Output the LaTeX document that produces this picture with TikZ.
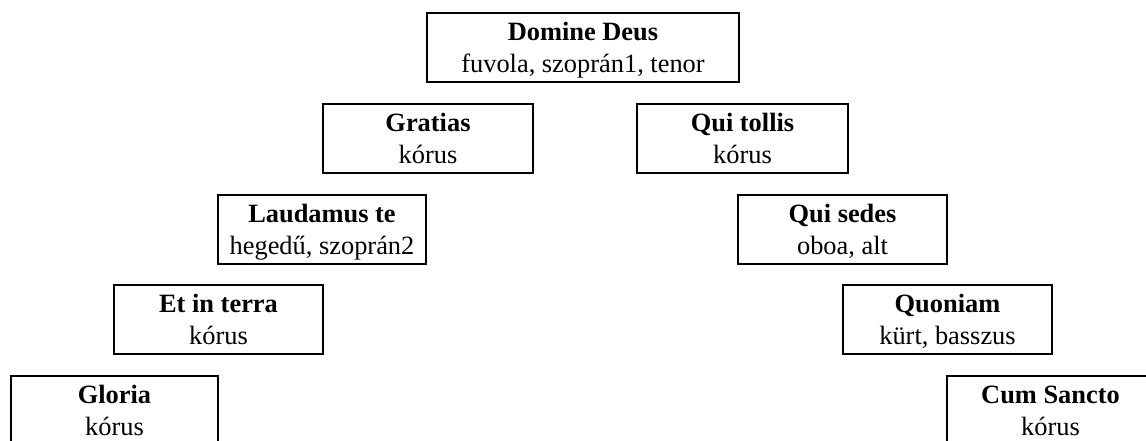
\documentclass[tikz,border=0pt]{standalone}
\usepackage{fontspec}
\setmainfont{Liberation Serif}
\newcommand{\mytwolines}[2]{\rule{0pt}{20.5pt}\textbf{#1}\\#2\rule[-7.25pt]{0pt}{7.25pt}}
\tikzset{
  box/.style={draw, line width=1.5pt, align=center, inner sep=0pt,
    minimum height=69*0.75pt, font=\fontsize{19.8}{24}\selectfont},
}
\begin{document}
\begin{tikzpicture}[x=0.75pt,y=-0.75pt]
\useasboundingbox (0,0) rectangle (1146,441);
\clip (0,0) rectangle (1146,441);
\node[box, minimum width=312*0.75pt] (domine) at (583,47.5) {\mytwolines{Domine Deus}{fuvola, szoprán1, tenor}};
\node[box, minimum width=210*0.75pt] (gratias) at (428,138.5) {\mytwolines{Gratias}{kórus}};
\node[box, minimum width=211*0.75pt] (tollis) at (742.5,138.5) {\mytwolines{Qui tollis}{kórus}};
\node[box, minimum width=208*0.75pt] (laudamus) at (322,229.5) {\mytwolines{Laudamus te}{hegedű, szoprán2}};
\node[box, minimum width=209*0.75pt] (sedes) at (842.5,229.5) {\mytwolines{Qui sedes}{oboa, alt}};
\node[box, minimum width=209*0.75pt] (terra) at (218.5,319.5) {\mytwolines{Et in terra}{kórus}};
\node[box, minimum width=209*0.75pt] (quoniam) at (947.5,319.5) {\mytwolines{Quoniam}{kürt, basszus}};
\node[box, minimum width=207*0.75pt] (gloria) at (114.5,410.5) {\mytwolines{Gloria}{kórus}};
\node[box, minimum width=207*0.75pt] (sancto) at (1050.5,410.5) {\mytwolines{Cum Sancto}{kórus}};
\end{tikzpicture}
\end{document}
